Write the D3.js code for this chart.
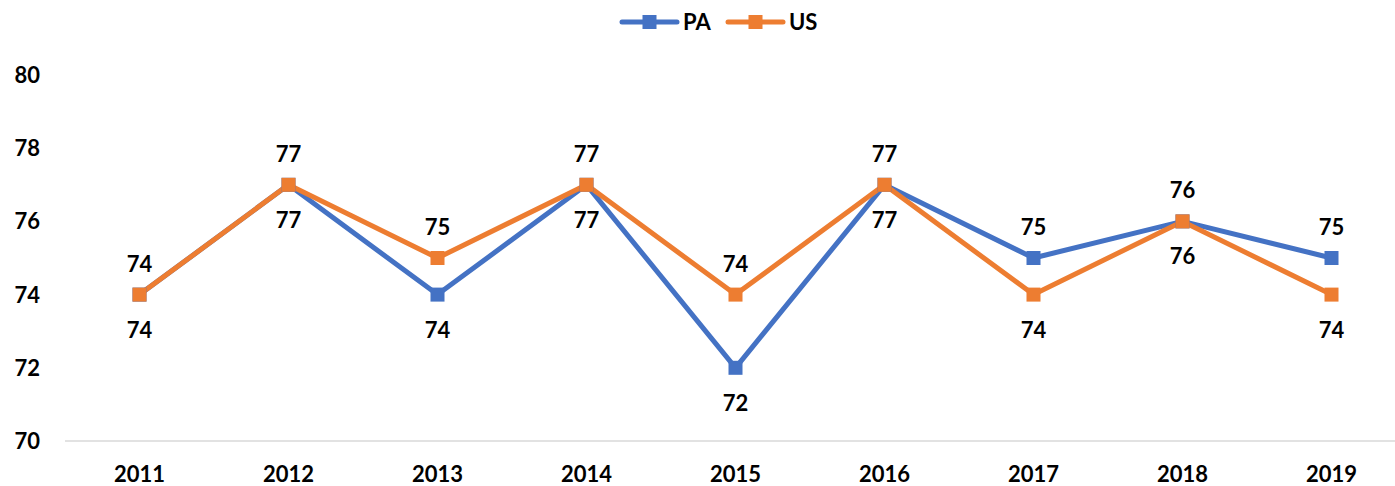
<!DOCTYPE html>
<html>
<head>
<meta charset="utf-8">
<script src="https://cdn.jsdelivr.net/npm/d3@7"></script>
<style>
  html, body { margin: 0; padding: 0; background: #fff; }
  svg text { font-family: Lato, 'Open Sans', sans-serif; font-weight: bold; fill: #000; }
</style>
</head>
<body>
<div id="chart"></div>
<script>
const years = ['2011', '2012', '2013', '2014', '2015', '2016', '2017', '2018', '2019']
const paValues = [74, 77, 74, 77, 72, 77, 75, 76, 75]
const usValues = [74, 77, 75, 77, 74, 77, 74, 76, 74]
const yTicks = [70, 72, 74, 76, 78, 80]
// where each data label sits relative to its point
const paLabelSide = ['below', 'below', 'below', 'below', 'below', 'below', 'above', 'above', 'above']
const usLabelSide = ['above', 'above', 'above', 'above', 'above', 'above', 'below', 'below', 'below']

const width = 1395
const height = 486
const fontSize = 22

const series = [
    { name: 'PA', values: paValues, sides: paLabelSide, color: '#4472C4' },
    { name: 'US', values: usValues, sides: usLabelSide, color: '#ED7D31' }
]

const svg = d3.select('#chart').
    append('svg').
    attr('width', width).
    attr('height', height)

const x = d3.scaleBand().domain(years).range([65, 1406]).padding(0)
const y = d3.scaleLinear().domain([70, 80]).range([441, 75])
const cx = d => x(d) + x.bandwidth() / 2

// y tick labels
svg.selectAll().
    data(yTicks).
    enter().
    append('text').
    text(d => d).
    attr('x', 40).
    attr('y', d => y(d)).
    attr('dy', '0.36em').
    attr('text-anchor', 'end').
    attr('font-size', fontSize)

// baseline
svg.append('line').
    attr('x1', x.range()[0]).
    attr('x2', width).
    attr('y1', y(70)).
    attr('y2', y(70)).
    attr('stroke', '#d9d9d9').
    attr('stroke-width', 1.5)

// x labels
svg.selectAll().
    data(years).
    enter().
    append('text').
    text(d => d).
    attr('x', d => cx(d)).
    attr('y', 474).
    attr('dy', '0.36em').
    attr('text-anchor', 'middle').
    attr('font-size', fontSize)

const line = d3.line().
    x((d, i) => cx(years[i])).
    y(d => y(d))

series.forEach(s => {
    svg.append('path').
        datum(s.values).
        attr('d', line).
        attr('fill', 'none').
        attr('stroke', s.color).
        attr('stroke-width', 5).
        attr('stroke-linejoin', 'round')
})

const m = 14
series.forEach(s => {
    svg.selectAll().
        data(s.values).
        enter().
        append('rect').
        attr('x', (d, i) => cx(years[i]) - m / 2).
        attr('y', d => y(d) - m / 2).
        attr('width', m).
        attr('height', m).
        attr('fill', s.color)
})

// data labels
series.forEach(s => {
    svg.selectAll().
        data(s.values).
        enter().
        append('text').
        text(d => d).
        attr('x', (d, i) => cx(years[i])).
        attr('y', (d, i) => y(d) + (s.sides[i] === 'above' ? -31 : 35)).
        attr('dy', '0.36em').
        attr('text-anchor', 'middle').
        attr('font-size', fontSize)
})

// legend
const legend = svg.append('g')
const legendX = [622, 728]
series.forEach((s, i) => {
    const g = legend.append('g').attr('transform', `translate(${legendX[i]}, 22)`)
    g.append('line').
        attr('x1', 0).attr('x2', 55).
        attr('y1', 0).attr('y2', 0).
        attr('stroke', s.color).
        attr('stroke-width', 5).
        attr('stroke-linecap', 'round')
    g.append('rect').
        attr('x', 27.5 - m / 2).
        attr('y', -m / 2).
        attr('width', m).
        attr('height', m).
        attr('fill', s.color)
    g.append('text').
        text(s.name).
        attr('x', 61).
        attr('y', 0).
        attr('dy', '0.36em').
        attr('font-size', fontSize)
})
</script>
</body>
</html>
